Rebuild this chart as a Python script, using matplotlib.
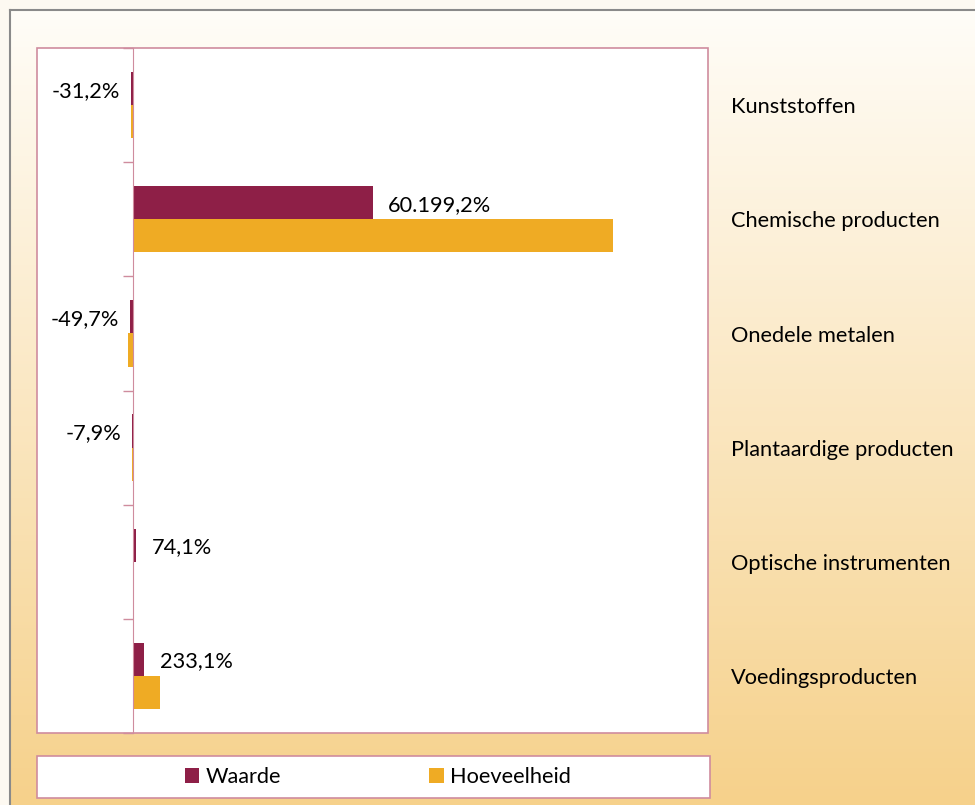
import numpy as np
import matplotlib
matplotlib.use("Agg")
import matplotlib.pyplot as plt
import matplotlib.patches as patches
import matplotlib.transforms as transforms

plt.rcParams['font.family'] = ['Lato', 'DejaVu Sans']

# data
categories = ["Kunststoffen", "Chemische producten", "Onedele metalen",
              "Plantaardige producten", "Optische instrumenten", "Voedingsproducten"]
# bar lengths as drawn in the picture (the chart's own scale)
waarde = [-31.2, 4800, -49.7, -7.9, 74.1, 233.1]
hoeveelheid = [-30, 9600, -90, -15, 10, 540]
waarde_labels = ["-31,2%", "60.199,2%", "-49,7%", "-7,9%", "74,1%", "233,1%"]

c_waarde = "#8e1f47"
c_hoev = "#efab24"
pink = "#cf8c9e"
fs = 15.7

W, H = 975, 805
fig = plt.figure(figsize=(W / 100, H / 100), dpi=100)
fig.patch.set_facecolor("#fdf9f1")

# gradient background inside the outer border
bg = fig.add_axes([10 / W, 0, 1 - 10 / W, 1 - 10.5 / H], zorder=0)
grad = np.linspace(0, 1, 256).reshape(-1, 1)
top = np.array([0xff, 0xfd, 0xf8]) / 255
bot = np.array([0xf6, 0xd1, 0x8b]) / 255
img = top + (bot - top) * grad[..., None]
bg.imshow(img, aspect="auto", extent=[0, 1, 0, 1])
bg.set_axis_off()
fig.add_artist(plt.Line2D([9.5 / W, 9.5 / W], [0, 1 - 10.5 / H], color="#8a8a8a", lw=1.5))
fig.add_artist(plt.Line2D([9.5 / W, 1], [1 - 10.5 / H, 1 - 10.5 / H], color="#8a8a8a", lw=1.5))

# plot area
ax = fig.add_axes([37 / W, (H - 733) / H, 671 / W, 685 / H], zorder=2)
ax.set_facecolor("white")
y = np.arange(len(categories))
bh = 0.29
ax.barh(y - bh / 2, waarde, height=bh, color=c_waarde, label="Waarde")
ax.barh(y + bh / 2, hoeveelheid, height=bh, color=c_hoev, label="Hoeveelheid")

scale = 0.05  # px per unit
ax.set_xlim((37 - 132.7) / scale, (708 - 132.7) / scale)
ax.set_ylim(len(categories) - 0.5, -0.5)

for s in ["top", "right", "bottom"]:
    ax.spines[s].set_visible(False)
ax.spines["left"].set_position(("data", 0))
ax.spines["left"].set_color(pink)
ax.add_patch(patches.Rectangle((0, 0), 1, 1, transform=ax.transAxes, fill=False,
                               edgecolor=pink, lw=1.2, clip_on=False))
ax.set_xticks([])
ax.set_yticks(np.arange(-0.5, len(categories), 1.0))
ax.set_yticklabels([])
ax.tick_params(axis="y", direction="out", length=7, color=pink, width=1)

# data labels for Waarde
for i, (v, lab) in enumerate(zip(waarde, waarde_labels)):
    if v >= 0:
        ax.annotate(lab, (v, i - bh / 2), xytext=(11, -1.5), textcoords="offset points",
                    ha="left", va="center", fontsize=fs, color="black")
    else:
        ax.annotate(lab, (v, i - bh / 2), xytext=(-8, -1.5), textcoords="offset points",
                    ha="right", va="center", fontsize=fs, color="black")

# category names on the right
tr = transforms.blended_transform_factory(fig.transFigure, ax.transData)
for i, cat in enumerate(categories):
    ax.annotate(cat, (731 / W, i), xycoords=tr, xytext=(0, -1.5), textcoords="offset points",
                ha="left", va="center", fontsize=fs, color="black", annotation_clip=False)

# legend box
fig.add_artist(patches.Rectangle((37 / W, (H - 798) / H), 673 / W, 42 / H,
                                 transform=fig.transFigure, facecolor="white",
                                 edgecolor=pink, lw=1.2, zorder=3))
leg = fig.legend(loc="center", bbox_to_anchor=(378 / W, (H - 777) / H), ncol=2,
                 frameon=False, fontsize=fs, handlelength=0.65, handleheight=0.65,
                 handletextpad=0.3, columnspacing=6.8)
leg.set_zorder(4)

fig.savefig("out.png", dpi=100)
